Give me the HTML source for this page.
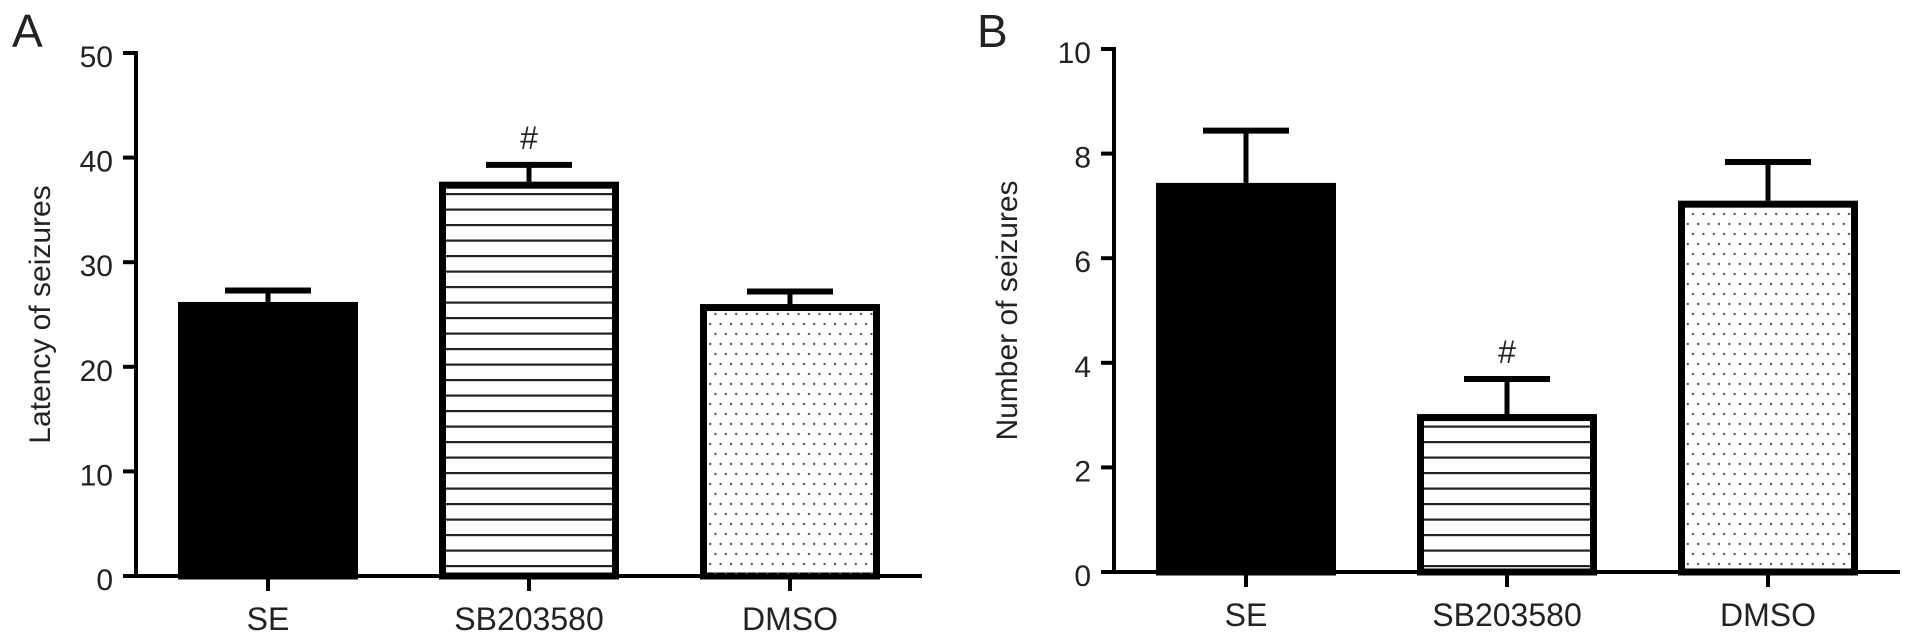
<!DOCTYPE html>
<html><head><meta charset="utf-8"><style>
html,body{margin:0;padding:0;background:#fff;}
svg{display:block;font-family:"Liberation Sans",Arial,sans-serif;}
</style></head><body>
<svg id="chart" width="1913" height="641" viewBox="0 0 1913 641">
<defs>
<pattern id="stripes" width="10" height="15.5" patternUnits="userSpaceOnUse">
<rect x="0" y="7" width="10" height="2.2" fill="#222"/>
</pattern>
<pattern id="dots" width="10.4" height="20" patternUnits="userSpaceOnUse">
<circle cx="3" cy="4" r="1.2" fill="#555"/>
<circle cx="8.2" cy="14" r="1.2" fill="#555"/>
</pattern>
</defs>
</svg>
<script>
const categories = ["SE", "SB203580", "DMSO"];
const valuesA = [26.2, 37.7, 26.0];
const errorsA = [1.1, 1.6, 1.2];
const ticksA = [0, 10, 20, 30, 40, 50];
const valuesB = [7.44, 3.02, 7.1];
const errorsB = [1.0, 0.67, 0.74];
const ticksB = [0, 2, 4, 6, 8, 10];
const sigA = [false, true, false];
const sigB = [false, true, false];
const fills = ["#000", "url(#stripes)", "url(#dots)"];

const svg = document.getElementById('chart');
const NS = 'http://www.w3.org/2000/svg';
function mk(tag, attrs, parent) {
  const e = document.createElementNS(NS, tag);
  for (const k in attrs) e.setAttribute(k, attrs[k]);
  (parent || svg).appendChild(e);
  return e;
}
function txt(parent, x, y, size, anchor, s) {
  const t = mk('text', {x: x, y: y, 'font-size': size, 'text-anchor': anchor, fill: '#222'}, parent);
  t.textContent = s;
  return t;
}

function panel(cfg) {
  const g = mk('g', {});
  
  
  const y = v => cfg.y0 - (v / cfg.max) * (cfg.y0 - cfg.yTop);
  const xc = i => cfg.firstCenter + i * cfg.step;

  const lab = txt(g, cfg.letterX, 47, 46, 'start', cfg.letter);
  
  

  cfg.values.forEach((v, i) => {
    const cx = xc(i), hw = cfg.barW / 2, sw = 7;
    const top = y(v), eTop = y(v + cfg.errors[i]);
    const stem = mk('line', {x1: cx, x2: cx, y1: top, y2: eTop, stroke: '#000', 'stroke-width': 5}, g);
    
    
    const cap = mk('line', {x1: cx - 43, x2: cx + 43, y1: eTop, y2: eTop, stroke: '#000', 'stroke-width': 6}, g);
    
    
    const r = mk('rect', {x: cx - hw + sw / 2, y: top + sw / 2, width: cfg.barW - sw, height: cfg.y0 - top - sw / 2, fill: fills[i] === '#000' ? '#000' : '#fff', stroke: '#000', 'stroke-width': sw}, g);
    
    
    if (fills[i] !== '#000') {
      const p = mk('rect', {x: cx - hw + sw, y: top + sw, width: cfg.barW - 2 * sw, height: cfg.y0 - top - sw, fill: fills[i]}, g);
      
      
    }
    if (cfg.sig[i]) {
      const s = txt(g, cx, eTop - 16, 32, 'middle', '#');
      
      
    }
    const tk = mk('line', {x1: cx, x2: cx, y1: cfg.y0, y2: cfg.y0 + 15, stroke: '#000', 'stroke-width': 4}, g);
    
    
    const tl = txt(g, cx, cfg.y0 + 54, 32, 'middle', categories[i]);
    
    
  });

  const ya = mk('line', {x1: cfg.axisX, x2: cfg.axisX, y1: cfg.yTop - 2, y2: cfg.y0 + 2, stroke: '#000', 'stroke-width': 4}, g);
  
  
  const xa = mk('line', {x1: cfg.axisX - 13, x2: cfg.axisEnd, y1: cfg.y0, y2: cfg.y0, stroke: '#000', 'stroke-width': 4}, g);
  
  
  cfg.ticks.forEach(t => {
    const l = mk('line', {x1: cfg.axisX - 13, x2: cfg.axisX, y1: y(t), y2: y(t), stroke: '#000', 'stroke-width': 4}, g);
    
    
    const tx = txt(g, cfg.axisX - 23, y(t) + 14, 30, 'end', String(t));
    
    
  });
  const ttl = mk('text', {x: 0, y: 0, 'font-size': 30, 'text-anchor': 'middle', fill: '#222',
    transform: 'translate(' + cfg.titleX + ',' + ((cfg.y0 + cfg.yTop) / 2) + ') rotate(-90)'}, g);
  ttl.textContent = cfg.title;
  
  
}

panel({name: 'panel-a', letter: 'A', letterX: 12, axisX: 136, axisEnd: 922, y0: 576, yTop: 53, max: 50,
  firstCenter: 268, step: 261, barW: 180, values: valuesA, errors: errorsA, ticks: ticksA, sig: sigA,
  title: 'Latency of seizures', titleX: 50});
panel({name: 'panel-b', letter: 'B', letterX: 977, axisX: 1114, axisEnd: 1900, y0: 572, yTop: 49, max: 10,
  firstCenter: 1246, step: 261, barW: 180, values: valuesB, errors: errorsB, ticks: ticksB, sig: sigB,
  title: 'Number of seizures', titleX: 1017});
</script>
</body></html>
